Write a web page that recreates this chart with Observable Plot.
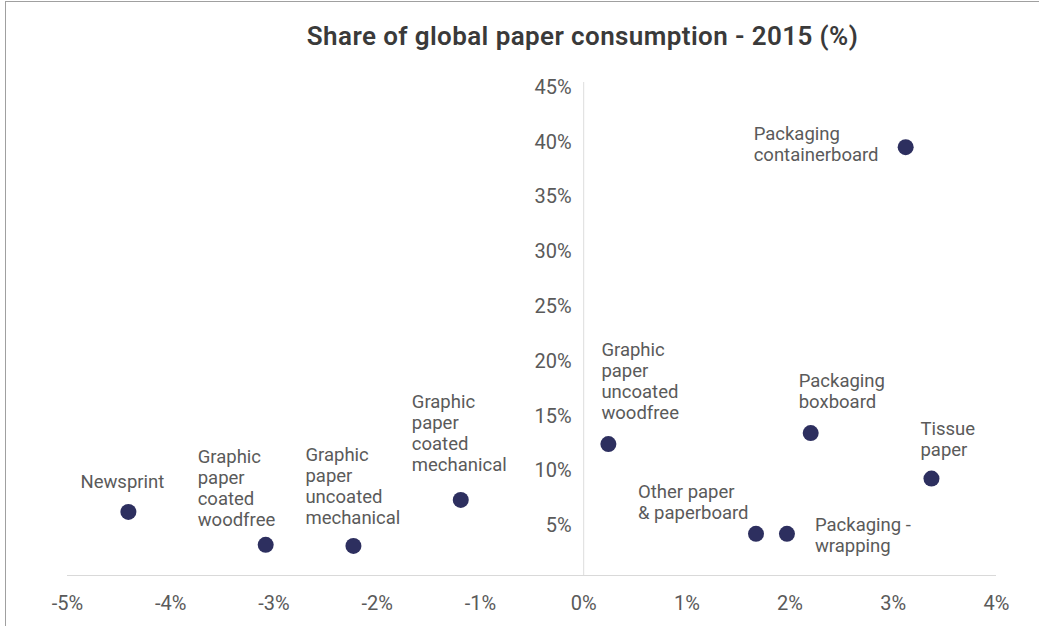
<!DOCTYPE html>
<html>
<head>
<meta charset="utf-8">
<script src="https://cdn.jsdelivr.net/npm/d3@7"></script>
<script src="https://cdn.jsdelivr.net/npm/@observablehq/plot@0.6"></script>
<style>
  html, body { margin: 0; padding: 0; background: #fff; }
  #wrap { position: relative; width: 1039px; height: 626px; overflow: hidden; font-family: Roboto, "Noto Sans", sans-serif; }
  #frame { position: absolute; left: 5px; top: 1px; width: 1100px; height: 700px; border-left: 1px solid #a0a0a0; border-top: 1px solid #a0a0a0; pointer-events: none; }
  #title { height: 60px; width: 1039px; text-align: center; box-sizing: border-box; padding-left: 126px; padding-top: 20px; font-size: 26px; font-weight: 600; color: #3a3a3a; line-height: 32px; letter-spacing: 0.4px; }
</style>
</head>
<body>
<div id="wrap">
  <div id="frame"></div>
  <div id="title">Share of global paper consumption - 2015 (%)</div>
  <div id="chart"></div>
</div>
<script>
// Data
const categories = [
  "Newsprint",
  "Graphic\npaper\ncoated\nwoodfree",
  "Graphic\npaper\nuncoated\nmechanical",
  "Graphic\npaper\ncoated\nmechanical",
  "Graphic\npaper\nuncoated\nwoodfree",
  "Other paper\n& paperboard",
  "Packaging -\nwrapping",
  "Packaging\nboxboard",
  "Tissue\npaper",
  "Packaging\ncontainerboard"
];
const growth = [-4.41, -3.08, -2.23, -1.19, 0.24, 1.67, 1.97, 2.20, 3.37, 3.12];
const share  = [5.8, 2.8, 2.7, 6.9, 12.0, 3.8, 3.8, 13.0, 8.85, 39.1];
const xTicks = [-5, -4, -3, -2, -1, 0, 1, 2, 3, 4];
const yTicks = [5, 10, 15, 20, 25, 30, 35, 40, 45];

const data = categories.map((c, i) => ({name: c, x: growth[i], y: share[i]}));

// label placement (layout, in px relative to each point)
const place = {
  "Newsprint": {anchor: "middle", dx: -6, dy: -31},
  "Graphic\npaper\ncoated\nwoodfree": {anchor: "start", dx: -68, dy: -57},
  "Graphic\npaper\nuncoated\nmechanical": {anchor: "start", dx: -48, dy: -60},
  "Graphic\npaper\ncoated\nmechanical": {anchor: "start", dx: -49, dy: -67},
  "Graphic\npaper\nuncoated\nwoodfree": {anchor: "start", dx: -7, dy: -63},
  "Other paper\n& paperboard": {anchor: "start", dx: -118, dy: -32},
  "Packaging -\nwrapping": {anchor: "start", dx: 28, dy: 1},
  "Packaging\nboxboard": {anchor: "start", dx: -12, dy: -42},
  "Tissue\npaper": {anchor: "start", dx: -11, dy: -40},
  "Packaging\ncontainerboard": {anchor: "start", dx: -152, dy: -3}
};

const labelMarks = data.map(d => {
  const p = place[d.name];
  return Plot.text([d], {
    x: "x", y: "y", text: "name",
    textAnchor: p.anchor, lineAnchor: "middle", dx: p.dx, dy: p.dy,
    fontSize: 18.5, lineHeight: 1.14, fill: "#5a5a5a",
    fontFamily: "Roboto, sans-serif"
  });
});

const plot = Plot.plot({
  width: 1039,
  height: 566,
  marginTop: 22,
  marginBottom: 51,
  marginLeft: 67,
  marginRight: 43,
  x: {domain: [-5, 4], axis: null},
  y: {domain: [0, 45], axis: null},
  style: {background: "transparent", fontFamily: "Roboto, sans-serif"},
  marks: [
    Plot.ruleY([0], {x1: -5, x2: 4, stroke: "#d9d9d9", strokeWidth: 1.2}),
    Plot.ruleX([0], {y1: 0, y2: 45, stroke: "#e3e3e3", strokeWidth: 1.2}),
    Plot.text(xTicks, {x: d => d, y: 0, text: d => d + "%", dy: 28, fontSize: 20, fill: "#5a5a5a", fontFamily: "Roboto, sans-serif"}),
    Plot.text(yTicks, {x: 0, y: d => d, text: d => d + "%", textAnchor: "end", dx: -12, dy: 5, fontSize: 20, fill: "#5a5a5a", fontFamily: "Roboto, sans-serif"}),
    Plot.dot(data, {x: "x", y: "y", r: 8, fill: "#2d2f5f", stroke: "none"}),
    ...labelMarks
  ]
});
document.getElementById("chart").appendChild(plot);
</script>
</body>
</html>
